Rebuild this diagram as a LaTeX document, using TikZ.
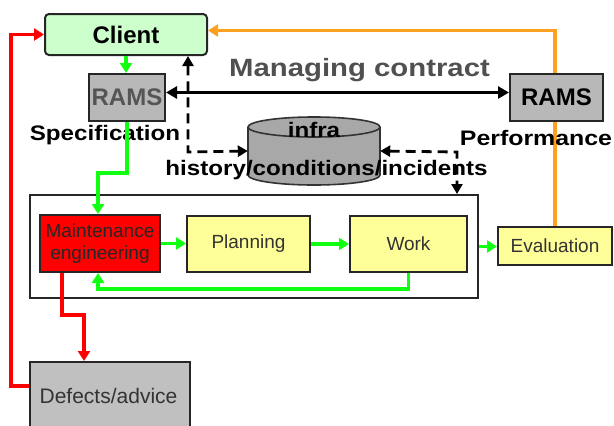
\documentclass[tikz,border=0pt]{standalone}
\usepackage{fontspec}
\setmainfont{Liberation Sans}
\usetikzlibrary{arrows.meta}

\definecolor{clientgreen}{HTML}{CCFFCC}
\definecolor{ramsgray}{HTML}{B8B8B8}
\definecolor{defectgray}{HTML}{C0C0C0}
\definecolor{dbgray}{HTML}{A8A8A8}
\definecolor{workyellow}{HTML}{FFFF99}
\definecolor{flowgreen}{HTML}{11FF11}
\definecolor{evalorange}{HTML}{FFA020}
\definecolor{ramstext}{HTML}{555555}
\definecolor{contractgray}{HTML}{505050}

\begin{document}
\begin{tikzpicture}[x=1pt, y=-1pt,
        box/.style={draw=black!85, line width=2pt, inner sep=0pt, text=black!80},
        yellowbox/.style={box, fill=workyellow, minimum height=56, font=\fontsize{19}{22}\selectfont},
        note/.style={inner sep=0pt, xscale=1.15, font=\bfseries\fontsize{21}{24}\selectfont},
        rams/.style={box, fill=ramsgray, minimum width=76, minimum height=47, font=\bfseries\fontsize{24}{28}\selectfont},
        flow/.style={-{Triangle[length=10pt,width=12pt]}, line width=3.6pt, flowgreen},
        feedback/.style={-{Triangle[length=10pt,width=12pt]}, line width=3.6pt, red},
        result/.style={-{Triangle[length=10pt,width=12pt]}, line width=3.4pt, evalorange},
        datalink/.style={{Triangle[length=10pt,width=11pt]}-{Triangle[length=10pt,width=11pt]}, line width=2.8pt, dash pattern=on 10pt off 6pt},
        contract/.style={{Triangle[length=11pt,width=12pt]}-{Triangle[length=11pt,width=12pt]}, line width=2.8pt}
    ]
        \useasboundingbox (0,0) rectangle (614,426);

        % Client and contract level
        \node[box, fill=clientgreen, rounded corners=4pt, minimum width=162, minimum height=41, text=black, font=\bfseries\fontsize{24}{28}\selectfont] (client) at (126,34.5) {Client};
        \node[rams, text=ramstext] (ramsspec) at (127,97.5) {RAMS};
        \node[note] (spec) at (105,135) {Specification};
        \node[note, xscale=1.02, text=contractgray, font=\bfseries\fontsize{25}{28}\selectfont] (managing) at (359.5,70) {Managing contract};

        % Database of infra conditions
        \node[minimum width=132, minimum height=68, inner sep=0pt] (cyl) at (314,151) {};
        \draw[fill=dbgray, line width=1.6pt, draw=black!80] (248,127) -- (248,175) arc[start angle=180, end angle=0, x radius=66, y radius=10] -- (380,127);
        \draw[fill=dbgray, line width=1.6pt, draw=black!80] (314,127) ellipse [x radius=66, y radius=10];
        \node[note] (infra) at (314,130) {infra};
        \node[note] (hist) at (326.5,170) {history/conditions/incidents};

        % Maintenance process
        \node[box, minimum width=448, minimum height=103] (process) at (254,246.5) {};
        \node[box, fill=red, minimum width=120, minimum height=57, align=center, text=black!85, font=\fontsize{19}{22}\selectfont] (maint) at (100,243.5) {Maintenance\\engineering};
        \node[yellowbox, minimum width=123] (planning) at (248.5,244) {Planning};
        \node[yellowbox, minimum width=117] (work) at (408.5,244) {Work};
        \node[yellowbox, minimum width=114, minimum height=38] (eval) at (555,246) {Evaluation};
        \node[box, fill=defectgray, minimum width=160, minimum height=72] (defects) at (110,398) {};
        \node[text=black!80, font=\fontsize{21}{24}\selectfont] (defectstext) at (108.5,396) {Defects/advice};

        % Evaluation back to client
        \draw[result] (eval.north) |- ([yshift=4pt]client.east);
        \node[rams, minimum width=93, text=black] (ramsperf) at (556.5,97.5) {RAMS};
        \node[note, xscale=1.03] (perf) at (536,138) {Performance};

        % Green flow
        \draw[flow] (client.south) -- (client.south |- ramsspec.north);
        \draw[flow] (ramsspec.south) -- ++(0,51) -| ([xshift=-2pt]maint.north);
        \draw[flow] (maint.east) -- (maint.east -| planning.west);
        \draw[flow] (planning.east) -- (work.west);
        \draw[flow] (work.south) -- ++(0,16) -| ([xshift=-2pt]maint.south);
        \draw[flow] (process.east) -- (process.east -| eval.west);

        % Red feedback
        \draw[feedback] ([xshift=-38pt]maint.south) -- ++(0,42) -| ([xshift=-26pt]defects.north);
        \draw[feedback] ([yshift=12pt]defects.west) -- ++(-18,0) |- (client.west);

        % Contract and data links
        \draw[contract] ([yshift=5pt]ramsspec.east) -- ([yshift=5pt]ramsperf.west);
        \coordinate (histcorner) at (188,152);
        \coordinate (inccorner) at (457,152);
        \draw[datalink] (client.south -| histcorner) -- (histcorner) -- (cyl.west);
        \draw[datalink] (cyl.east) -- (inccorner) -- (inccorner |- process.north);
    \end{tikzpicture}
\end{document}
